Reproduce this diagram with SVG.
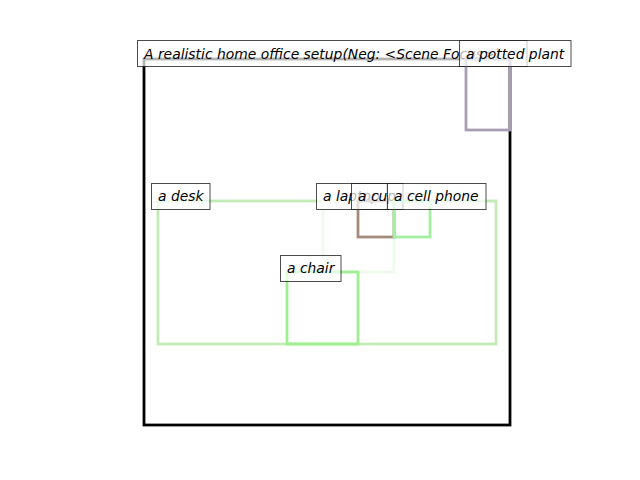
<svg xmlns="http://www.w3.org/2000/svg" width="640" height="480" viewBox="0 0 640 480">
  <style>
    .obj { fill: none; stroke-width: 2.78; }
    .lbl { fill: #ffffff; fill-opacity: 0.7; stroke: #000000; stroke-opacity: 0.7; stroke-width: 1; }
    .txt { font-family: "DejaVu Sans", "Liberation Sans", sans-serif; font-style: italic; font-size: 13.89px; fill: #000000; }
  </style>
  <rect width="640" height="480" fill="#ffffff"/>
  <g id="frame">
    <rect x="144" y="59" width="366" height="366" fill="none" stroke="#000000" stroke-width="2.78"/>
  </g>
  <g id="connectors"></g>
  <g id="title">
    <rect class="lbl" x="137.5" y="40.5" width="389.5" height="26"/>
    <text class="txt" x="144" y="59">A realistic home office setup(Neg: &lt;Scene Focus&gt;)</text>
  </g>
  <g id="desk">
    <rect class="obj" x="158" y="201" width="338" height="143" stroke="#c3ebb6"/>
    <rect class="lbl" x="151.5" y="183.5" width="58.5" height="26"/>
    <text class="txt" x="158" y="201">a desk</text>
  </g>
  <g id="laptop">
    <rect class="obj" x="323" y="201" width="71" height="71" stroke="#eefaec"/>
    <rect class="lbl" x="316.5" y="183.5" width="70.5" height="26"/>
    <text class="txt" x="323" y="201">a laptop</text>
  </g>
  <g id="cup">
    <rect class="obj" x="358" y="201" width="36" height="36" stroke="#a58a7e"/>
    <rect class="lbl" x="351.5" y="183.5" width="51.5" height="26"/>
    <text class="txt" x="358" y="201">a cup</text>
  </g>
  <g id="cell-phone">
    <rect class="obj" x="394" y="201" width="36" height="36" stroke="#a3f0a0"/>
    <rect class="lbl" x="387.5" y="183.5" width="98.5" height="26"/>
    <text class="txt" x="394" y="201">a cell phone</text>
  </g>
  <g id="chair">
    <rect class="obj" x="287" y="272" width="71" height="72" stroke="#9cf08e"/>
    <rect class="lbl" x="280.5" y="255.5" width="60.5" height="26"/>
    <text class="txt" x="287" y="272.5">a chair</text>
  </g>
  <g id="potted-plant">
    <rect class="obj" x="466" y="59" width="44" height="71" stroke="#a89fb2"/>
    <rect class="lbl" x="459.5" y="40.5" width="111.5" height="26"/>
    <text class="txt" x="466" y="59">a potted plant</text>
  </g>
</svg>
